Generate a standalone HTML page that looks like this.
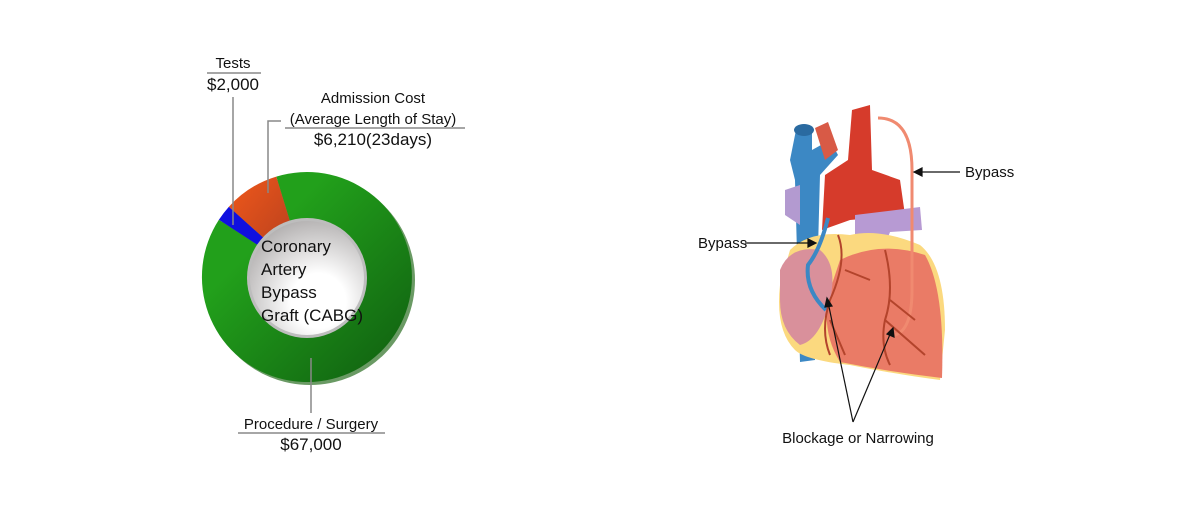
<!DOCTYPE html>
<html><head><style>
body{margin:0;background:#fff;}
svg text{font-family:"Liberation Sans",sans-serif;fill:#111;}
</style></head><body>
<svg width="1200" height="500" viewBox="0 0 1200 500">
<defs>
<linearGradient id="g" x1="0" y1="0" x2="1" y2="1"><stop offset="0.3" stop-color="#22a01b"/><stop offset="1" stop-color="#0f5c10"/></linearGradient>
<linearGradient id="o" x1="0" y1="0" x2="1" y2="1"><stop offset="0" stop-color="#f0581a"/><stop offset="1" stop-color="#a83a20"/></linearGradient>
<radialGradient id="w" cx="0.6" cy="0.7" r="0.8"><stop offset="0.3" stop-color="#fff"/><stop offset="1" stop-color="#a9a6a6"/></radialGradient>
</defs>
<!-- donut -->
<circle cx="310" cy="280" r="105" fill="#6a9a64"/>
<path d="M307 277 L276.3 176.6 A105 105 0 1 1 218.9 219.8 Z" fill="url(#g)"/>
<path d="M307 277 L218.9 219.8 A105 105 0 0 1 228.9 206.7 Z" fill="#1010e0"/>
<path d="M307 277 L228.9 206.7 A105 105 0 0 1 276.3 176.6 Z" fill="url(#o)"/>
<circle cx="307" cy="278" r="60" fill="#bdbdbd"/>
<circle cx="307" cy="278" r="57" fill="url(#w)"/>
<g font-size="17">
<text x="261" y="252">Coronary</text>
<text x="261" y="275">Artery</text>
<text x="261" y="298">Bypass</text>
<text x="261" y="321">Graft (CABG)</text>
</g>
<g stroke="#888" stroke-width="1.5" fill="none">
<path d="M233 97 V225"/>
<path d="M281 121 H268 V193"/>
<path d="M311 358 V413"/>
</g>
<g stroke="#888" stroke-width="1.5">
<line x1="207" y1="73" x2="261" y2="73"/>
<line x1="285" y1="128" x2="465" y2="128"/>
<line x1="238" y1="433" x2="385" y2="433"/>
</g>
<g font-size="15" text-anchor="middle">
<text x="233" y="68">Tests</text>
<text x="233" y="90" font-size="17">$2,000</text>
<text x="373" y="103">Admission Cost</text>
<text x="373" y="124">(Average Length of Stay)</text>
<text x="373" y="145" font-size="17">$6,210(23days)</text>
<text x="311" y="429">Procedure / Surgery</text>
<text x="311" y="450" font-size="17">$67,000</text>
</g>
<!-- heart -->
<path d="M796 130 L812 128 L812 150 L830 140 L838 155 L820 175 L815 360 L800 362 L795 180 L790 160 Z" fill="#3c88c4"/>
<ellipse cx="804" cy="130" rx="10" ry="6" fill="#2a6aa0"/>
<path d="M815 128 L828 122 L838 150 L825 160 Z" fill="#d85a46"/>
<path d="M852 110 L870 105 L872 170 L900 180 L905 215 L850 220 L822 230 L825 175 L848 160 Z" fill="#d63b2b"/>
<path d="M785 190 L800 185 L800 225 L785 215 Z" fill="#b39ad0"/>
<path d="M855 215 L920 207 L922 230 L890 232 L885 245 L855 245 Z" fill="#b79ad3"/>
<path d="M790 250 Q810 230 850 235 Q880 228 920 245 Q945 265 945 330 L940 380 Q900 375 850 365 Q805 360 795 350 Q775 330 780 285 Z" fill="#fbd97f"/>
<path d="M840 260 Q880 240 925 255 Q945 290 942 378 Q890 372 840 362 Q820 330 830 290 Z" fill="#ea7b66"/>
<path d="M780 270 Q790 245 820 250 Q838 265 830 300 Q820 340 800 345 Q780 330 780 300 Z" fill="#d9909b"/>
<path d="M828 218 Q820 250 808 265 Q805 290 826 310" stroke="#3c88c4" stroke-width="4" fill="none"/>
<path d="M878 118 Q912 118 912 170 L912 290 Q912 330 895 335" stroke="#f08a70" stroke-width="3" fill="none"/>
<g stroke="#b3442c" stroke-width="2" fill="none">
<path d="M838 235 Q848 260 830 300 Q820 330 830 355"/>
<path d="M885 250 Q895 290 885 320 Q880 345 890 365"/>
<path d="M845 270 L870 280 M890 300 L915 320 M885 320 L925 355 M830 320 L845 355"/>
</g>
<g stroke="#111" stroke-width="1.2" fill="#111">
<line x1="960" y1="172" x2="918" y2="172"/><path d="M914 172 l8 -4 v8 z"/>
<line x1="745" y1="243" x2="812" y2="243"/><path d="M816 243 l-8 -4 v8 z"/>
<line x1="853" y1="422" x2="828" y2="302"/><path d="M827 298 l-2 9 l7 -1 z"/>
<line x1="853" y1="422" x2="891" y2="332"/><path d="M893 328 l-6 6 l7 3 z"/>
</g>
<g font-size="15">
<text x="965" y="177">Bypass</text>
<text x="698" y="248">Bypass</text>
<text x="858" y="443" text-anchor="middle">Blockage or Narrowing</text>
</g>
</svg>
</body></html>
